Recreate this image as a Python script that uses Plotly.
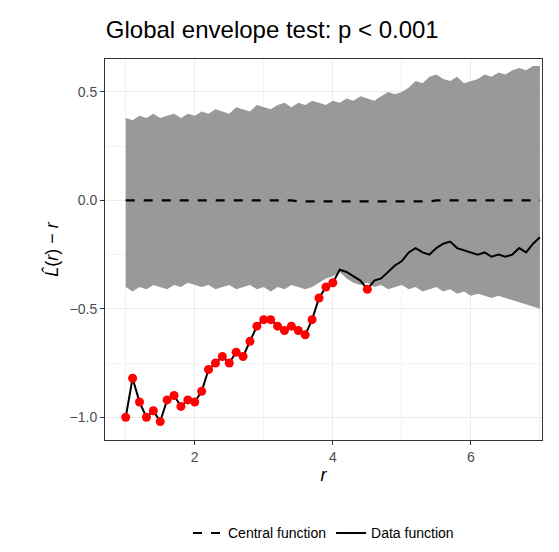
import plotly.graph_objects as go

r = [1.0,1.1,1.2,1.3,1.4,1.5,1.6,1.7,1.8,1.9,2.0,2.1,2.2,2.3,2.4,2.5,2.6,2.7,2.8,2.9,3.0,3.1,3.2,3.3,3.4,3.5,3.6,3.7,3.8,3.9,4.0,4.1,4.2,4.3,4.4,4.5,4.6,4.7,4.8,4.9,5.0,5.1,5.2,5.3,5.4,5.5,5.6,5.7,5.8,5.9,6.0,6.1,6.2,6.3,6.4,6.5,6.6,6.7,6.8,6.9,7.0]
upper = [0.38,0.37,0.39,0.38,0.40,0.38,0.39,0.40,0.38,0.40,0.39,0.41,0.40,0.42,0.41,0.40,0.43,0.42,0.41,0.44,0.43,0.42,0.44,0.45,0.43,0.45,0.44,0.46,0.45,0.44,0.46,0.45,0.47,0.46,0.48,0.47,0.46,0.48,0.50,0.49,0.50,0.52,0.55,0.54,0.57,0.58,0.56,0.55,0.57,0.54,0.55,0.56,0.58,0.57,0.59,0.58,0.60,0.61,0.60,0.62,0.62]
lower = [-0.40,-0.42,-0.40,-0.41,-0.39,-0.40,-0.41,-0.39,-0.40,-0.38,-0.39,-0.40,-0.39,-0.41,-0.40,-0.39,-0.41,-0.40,-0.39,-0.41,-0.40,-0.42,-0.40,-0.41,-0.39,-0.40,-0.41,-0.40,-0.38,-0.36,-0.35,-0.33,-0.36,-0.38,-0.39,-0.38,-0.40,-0.39,-0.41,-0.40,-0.39,-0.41,-0.40,-0.42,-0.41,-0.40,-0.42,-0.41,-0.43,-0.42,-0.44,-0.43,-0.44,-0.45,-0.44,-0.45,-0.46,-0.47,-0.48,-0.49,-0.50]
central = [0.0,0.0,0.0,0.0,0.0,0.0,0.0,0.0,0.0,0.0,0.0,0.0,0.0,0.0,0.0,0.0,0.0,0.0,0.0,0.0,0.0,0.0,0.0,0.0,0.0,-0.005,-0.005,-0.005,-0.005,-0.005,-0.005,-0.005,-0.005,-0.005,-0.005,-0.005,-0.005,-0.005,-0.005,-0.005,-0.005,-0.005,-0.005,-0.005,-0.005,0.0,0.0,0.0,0.0,0.0,0.0,0.0,0.0,0.0,0.0,0.0,0.0,0.0,0.0,0.0,0.0]
data = [-1.0,-0.82,-0.93,-1.0,-0.97,-1.02,-0.92,-0.90,-0.95,-0.92,-0.93,-0.88,-0.78,-0.75,-0.72,-0.75,-0.70,-0.72,-0.65,-0.58,-0.55,-0.55,-0.58,-0.60,-0.58,-0.60,-0.62,-0.55,-0.45,-0.40,-0.38,-0.32,-0.33,-0.35,-0.37,-0.41,-0.37,-0.36,-0.33,-0.30,-0.28,-0.24,-0.22,-0.24,-0.25,-0.22,-0.20,-0.19,-0.22,-0.23,-0.24,-0.25,-0.24,-0.26,-0.25,-0.26,-0.25,-0.22,-0.24,-0.20,-0.17]

out_r = [x for x, d, lo, up in zip(r, data, lower, upper) if d < lo or d > up]
out_d = [d for d, lo, up in zip(data, lower, upper) if d < lo or d > up]

fig = go.Figure()
fig.add_trace(go.Scatter(x=r, y=lower, mode="lines", line=dict(width=0), showlegend=False, hoverinfo="skip"))
fig.add_trace(go.Scatter(x=r, y=upper, mode="lines", line=dict(width=0), fill="tonexty", fillcolor="#999999", showlegend=False, hoverinfo="skip"))
fig.add_trace(go.Scatter(x=r, y=central, mode="lines", line=dict(color="black", width=2.2, dash="dash"), name="Central function"))
fig.add_trace(go.Scatter(x=r, y=data, mode="lines", line=dict(color="black", width=2), name="Data function"))
fig.add_trace(go.Scatter(x=out_r, y=out_d, mode="markers", marker=dict(color="red", size=9), showlegend=False))

ax = dict(showline=True, linecolor="#333333", mirror=True, linewidth=1, gridcolor="#EBEBEB", gridwidth=1.2,
          zeroline=False, ticks="outside", ticklen=4, tickcolor="#333333", tickfont=dict(size=14, color="#4D4D4D"),
          automargin=False)
fig.update_layout(
    width=559, height=552, plot_bgcolor="white", paper_bgcolor="white",
    font=dict(family="Liberation Sans, Arial", color="black"),
    margin=dict(l=97, r=25, t=51, b=119),
    title=dict(text="Global envelope test: p < 0.001", x=0.175, xanchor="left", y=0.96, yanchor="middle", font=dict(size=24)),
    xaxis=dict(range=[0.7, 7.03], tickvals=[2, 4, 6], minor=dict(tickvals=[1, 3, 5, 7], showgrid=True, gridcolor="#F3F3F3", gridwidth=0.6, ticks=""),
               title=dict(text="<i>r</i>", font=dict(size=18), standoff=4), **ax),
    yaxis=dict(range=[-1.105, 0.652], tickvals=[-1.0, -0.5, 0.0, 0.5], ticktext=["−1.0", "−0.5", "0.0", "0.5"],
               minor=dict(tickvals=[-0.75, -0.25, 0.25], showgrid=True, gridcolor="#F3F3F3", gridwidth=0.6, ticks=""),
               title=dict(text="<i>L̂</i>(<i>r</i>) − <i>r</i>", font=dict(size=18), standoff=6), **ax),
    legend=dict(orientation="h", x=0.5, xanchor="center", y=-0.2, yanchor="top", font=dict(size=14), traceorder="normal"),
)
fig.write_html("out.html")
